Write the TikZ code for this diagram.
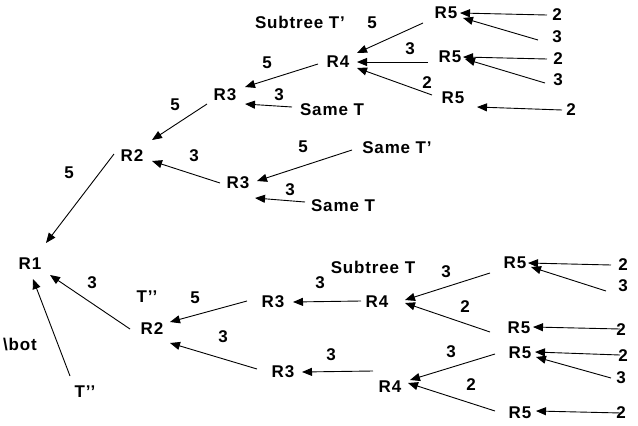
\documentclass[tikz,border=0pt]{standalone}
\usepackage{fontspec}
\setmainfont{Liberation Sans}[LetterSpace=5]
\usetikzlibrary{calc,arrows.meta}
\newcommand\myarrow[6]{\draw[arr] ($(#1)+(#2,#3)$) -- ($(#4)+(#5,#6)$);}
\begin{document}
\begin{tikzpicture}[x=1pt,y=-1pt,
  every node/.style={font=\fontsize{17}{20}\selectfont\bfseries, inner sep=0pt},
  arr/.style={line width=0.9pt, -{Triangle[length=10pt,width=8pt]}}]
\useasboundingbox[fill=white] (0,0) rectangle (638,426);
% top subtree
\node (subTp) at (300,22) {Subtree T’};
\node (l5a) at (372,23) {5};
\node (R5a) at (446,13) {R5};
\node (n2a) at (557,15) {2};
\node (n3a) at (557,37) {3};
\node (l3b) at (410,49) {3};
\node (R4t) at (338,62) {R4};
\node (R5b) at (450,57) {R5};
\node (n2b) at (558,59) {2};
\node (n3b) at (558,80) {3};
\node (l2c) at (427,83) {2};
\node (R5c) at (453,98) {R5};
\node (n2c) at (571,110) {2};
\node (l5d) at (267,63) {5};
\node (R3a) at (225,95) {R3};
\node (l3e) at (279,95) {3};
\node (sameTa) at (332,110) {Same T};
\node (l5h) at (175,105) {5};
\node (R2a) at (132,156) {R2};
\node (l3f) at (194,156) {3};
\node (l5g) at (69,173) {5};
\node (R3b) at (238,183) {R3};
\node (l5i) at (303,147) {5};
\node (sameTp) at (397,148) {Same T’};
\node (l3j) at (290,190) {3};
\node (sameTb) at (343,206) {Same T};
\node (R1) at (30,264) {R1};
% bottom subtree
\node (l3k) at (92,283) {3};
\node (Tpp1) at (147,297) {T’’};
\node (R2b) at (152,329) {R2};
\node (l5l) at (195,298) {5};
\node (R3c) at (273,302) {R3};
\node (l3m) at (320,283) {3};
\node (subT) at (373,267) {Subtree T};
\node (R4c) at (377,302) {R4};
\node (l3n) at (446,272) {3};
\node (R5d) at (515,263) {R5};
\node (n2d) at (623,265) {2};
\node (n3d) at (623,286) {3};
\node (l2o) at (465,307) {2};
\node (R5e) at (519,328) {R5};
\node (n2e) at (621,330) {2};
\node (l3p) at (223,337) {3};
\node (R3d) at (283,372) {R3};
\node (l3q) at (331,355) {3};
\node (R4d) at (390,387) {R4};
\node (l3r) at (451,352) {3};
\node (R5f) at (520,353) {R5};
\node (n2f) at (623,356) {2};
\node (n3f) at (621,378) {3};
\node (l2s) at (471,385) {2};
\node (R5g) at (520,413) {R5};
\node (n2g) at (621,413) {2};
\node (bot) at (20,345) {\textbackslash bot};
\node (Tpp2) at (85,392) {T’’};
% arrows
\myarrow{R5a}{-23}{10}{R4t}{19}{-9}
\myarrow{n2a}{-10}{0}{R5a}{14}{0}
\myarrow{n3a}{-19}{3}{R5a}{17}{5}
\myarrow{R5b}{-22}{5}{R4t}{19}{0}
\myarrow{n2b}{-11}{0}{R5b}{13}{0}
\myarrow{n3b}{-13}{3}{R5b}{15}{2}
\myarrow{R5c}{-21}{-3}{R4t}{19}{6}
\myarrow{n2c}{-9}{0}{R5c}{24}{9}
\myarrow{R4t}{-20}{2}{R3a}{20}{-8}
\myarrow{sameTa}{-40}{-3}{R3a}{20}{9}
\myarrow{R3a}{-18}{9}{R2a}{20}{-16}
\myarrow{R3b}{-18}{0}{R2a}{20}{5}
\myarrow{sameTp}{-45}{2}{R3b}{19}{-2}
\myarrow{sameTb}{-38}{-4}{R3b}{17}{15}
\myarrow{R2a}{-18}{-2}{R1}{16}{-21}
\myarrow{R2b}{-22}{0}{R1}{20}{11}
\myarrow{Tpp2}{-15}{-16}{R1}{3}{15}
\myarrow{R3c}{-26}{-1}{R2b}{18}{-7}
\myarrow{R3d}{-26}{-3}{R2b}{18}{14}
\myarrow{R4c}{-16}{-1}{R3c}{20}{0}
\myarrow{R4d}{-17}{-16}{R3d}{19}{0}
\myarrow{R5d}{-25}{10}{R4c}{28}{-2}
\myarrow{n2d}{-12}{0}{R5d}{13}{0}
\myarrow{n3d}{-17}{5}{R5d}{16}{4}
\myarrow{R5e}{-29}{4}{R4c}{28}{1}
\myarrow{n2e}{-1}{-1}{R5e}{14}{-1}
\myarrow{R5f}{-25}{1}{R4d}{20}{-7}
\myarrow{n2f}{-3}{-1}{R5f}{15}{-1}
\myarrow{n3f}{-10}{0}{R5f}{16}{4}
\myarrow{R5g}{-25}{-2}{R4d}{18}{-4}
\myarrow{n2g}{0}{0}{R5g}{16}{-2}
\end{tikzpicture}
\end{document}
